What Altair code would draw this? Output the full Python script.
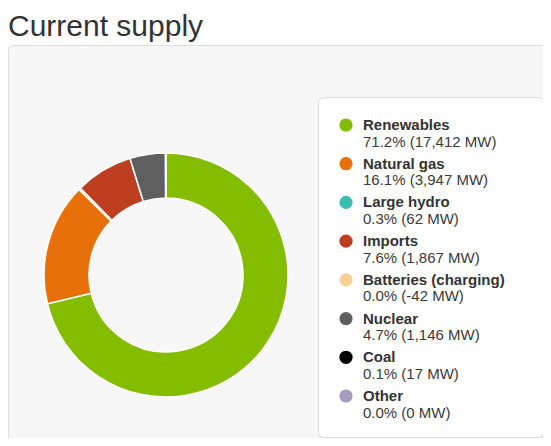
import altair as alt
import pandas as pd

categories = ["Renewables", "Natural gas", "Large hydro", "Imports",
              "Batteries (charging)", "Nuclear", "Coal", "Other"]
megawatts = [17412, 3947, 62, 1867, -42, 1146, 17, 0]
percents = [71.2, 16.1, 0.3, 7.6, 0.0, 4.7, 0.1, 0.0]
colors = ["#84bd00", "#e8700a", "#3bbdb0", "#bd3f1f",
          "#f8d094", "#5f5f5f", "#000000", "#a49dc0"]

df = pd.DataFrame({
    "cat": categories,
    "mw": megawatts,
    "pct": percents,
    "idx": list(range(len(categories))),
})
df["detail"] = [f"{p:.1f}% ({m:,} MW)" for p, m in zip(percents, megawatts)]

FONT = "Liberation Sans"
one = pd.DataFrame({"a": [0]})

panel = alt.Chart(one).mark_rect(
    fill="#f7f7f7", stroke="#dddddd", strokeWidth=1, cornerRadius=4
).encode(x=alt.value(0.5), x2=alt.value(600), y=alt.value(37.5), y2=alt.value(500))

legend_shadow = alt.Chart(one).mark_rect(
    fill="#e6e6e6", cornerRadius=6
).encode(x=alt.value(310), x2=alt.value(537), y=alt.value(89), y2=alt.value(431.5))

legend_box = alt.Chart(one).mark_rect(
    fill="#ffffff", stroke="#dcdcdc", strokeWidth=1, cornerRadius=5
).encode(x=alt.value(310.5), x2=alt.value(535.5), y=alt.value(89.5), y2=alt.value(429.5))

title = alt.Chart(one).mark_text(
    text="Current supply", font=FONT, fontSize=30, color="#333333",
    align="left", baseline="alphabetic"
).encode(x=alt.value(0), y=alt.value(27.5))

color_scale = alt.Scale(domain=categories, range=colors)

donut = alt.Chart(df).transform_calculate(
    pos="max(datum.mw, 0)"
).mark_arc(outerRadius=122, innerRadius=77, stroke="#ffffff", strokeWidth=1.5).encode(
    theta=alt.Theta("pos:Q", stack=True),
    order=alt.Order("idx:Q"),
    color=alt.Color("cat:N", scale=color_scale, legend=None),
    x=alt.value(158),
    y=alt.value(267),
)

yscale = alt.Scale(type="point", domain=categories, range=[117, 388], padding=0)

dots = alt.Chart(df).mark_circle(size=175, opacity=1).encode(
    x=alt.value(338),
    y=alt.Y("cat:N", scale=yscale, axis=None),
    color=alt.Color("cat:N", scale=color_scale, legend=None),
)

labels = alt.Chart(df).mark_text(
    font=FONT, fontSize=15, fontWeight="bold", color="#333333",
    align="left", baseline="middle", dy=0
).encode(
    x=alt.value(355),
    y=alt.Y("cat:N", scale=yscale, axis=None),
    text="cat:N",
)

details = alt.Chart(df).mark_text(
    font=FONT, fontSize=15, color="#3a3a3a",
    align="left", baseline="middle", dy=16.5
).encode(
    x=alt.value(355),
    y=alt.Y("cat:N", scale=yscale, axis=None),
    text="detail:N",
)

chart = alt.layer(panel, legend_shadow, legend_box, title, donut, dots, labels, details).properties(
    width=535, height=430,
    autosize=alt.AutoSizeParams(type="none"),
    padding=0,
    background="#ffffff",
).configure_view(stroke=None)

chart.save("out.html", embed_options={"renderer": "svg", "actions": False})
